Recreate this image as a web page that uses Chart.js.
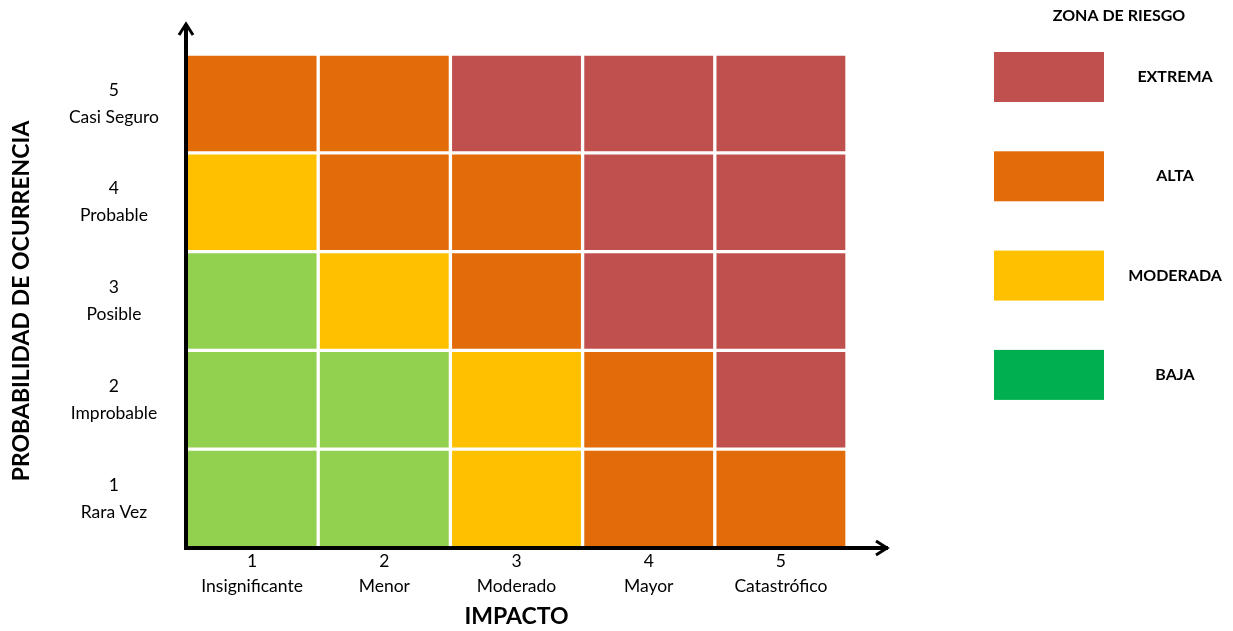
<!DOCTYPE html>
<html>
<head>
<meta charset="utf-8">
<script src="https://cdn.jsdelivr.net/npm/chart.js@4"></script>
<style>
  html, body { margin: 0; padding: 0; background: #ffffff; }
  #wrap { position: relative; width: 1233px; height: 631px; }
</style>
</head>
<body>
<div id="wrap"><canvas id="c"></canvas></div>
<script>
// ---- Data ----
const impactNumbers = ['1', '2', '3', '4', '5'];
const impactNames = ['Insignificante', 'Menor', 'Moderado', 'Mayor', 'Catastrófico'];
const probNumbers = ['1', '2', '3', '4', '5'];
const probNames = ['Rara Vez', 'Improbable', 'Posible', 'Probable', 'Casi Seguro'];

// Risk zone of each cell, rows from probability 1 (bottom) to 5 (top), columns impact 1..5
const riskRow1 = ['B', 'B', 'M', 'A', 'A'];
const riskRow2 = ['B', 'B', 'M', 'A', 'E'];
const riskRow3 = ['B', 'M', 'A', 'E', 'E'];
const riskRow4 = ['M', 'A', 'A', 'E', 'E'];
const riskRow5 = ['A', 'A', 'E', 'E', 'E'];
const riskRows = [riskRow1, riskRow2, riskRow3, riskRow4, riskRow5];

// Each cell spans one probability level
const cellSpan = [1, 1, 1, 1, 1];

// Legend
const zoneTitle = 'ZONA DE RIESGO';
const zoneCodes = ['E', 'A', 'M', 'B'];
const zoneLabels = ['EXTREMA', 'ALTA', 'MODERADA', 'BAJA'];
const zoneLegendColors = ['#C0504D', '#E26B0A', '#FFC000', '#00B050'];
const cellColors = { E: '#C0504D', A: '#E26B0A', M: '#FFC000', B: '#92D050' };

const axisTitleX = 'IMPACTO';
const axisTitleY = 'PROBABILIDAD DE OCURRENCIA';

const FONT = 'Lato, "Open Sans", sans-serif';

// ---- Plugins ----
const arrowAxes = {
  id: 'arrowAxes',
  afterDatasetsDraw(chart) {
    const { ctx, chartArea: a } = chart;
    ctx.save();
    ctx.strokeStyle = '#000';
    ctx.lineCap = 'butt';
    ctx.lineWidth = 4;
    ctx.beginPath();
    ctx.moveTo(a.left, a.bottom + 2);
    ctx.lineTo(a.left, a.top - 30);
    ctx.moveTo(a.left - 2, a.bottom);
    ctx.lineTo(a.right + 41, a.bottom);
    ctx.stroke();
    ctx.lineWidth = 3;
    ctx.lineJoin = 'miter';
    ctx.beginPath();
    ctx.moveTo(a.left - 7, a.top - 19);
    ctx.lineTo(a.left, a.top - 30);
    ctx.lineTo(a.left + 7, a.top - 19);
    ctx.moveTo(a.right + 29, a.bottom - 7);
    ctx.lineTo(a.right + 40, a.bottom);
    ctx.lineTo(a.right + 29, a.bottom + 7);
    ctx.stroke();
    ctx.restore();
  }
};

const zoneLegend = {
  id: 'zoneLegend',
  afterDraw(chart) {
    const { ctx } = chart;
    ctx.save();
    ctx.fillStyle = '#000';
    ctx.textAlign = 'center';
    ctx.textBaseline = 'middle';
    ctx.font = 'bold 16px ' + FONT;
    ctx.fillText(zoneTitle, 1119, 16);
    zoneLabels.forEach((lab, i) => {
      const y0 = 52 + i * 99.3;
      ctx.fillStyle = zoneLegendColors[i];
      ctx.fillRect(994, y0, 110, 50);
      ctx.fillStyle = '#000';
      ctx.font = 'bold 16px ' + FONT;
      ctx.fillText(lab, 1175, y0 + 25);
    });
    ctx.restore();
  }
};

// ---- Chart ----
const datasets = riskRows.map((row, r) => ({
  label: probNames[r],
  data: cellSpan.slice(),
  backgroundColor: row.map(z => cellColors[z]),
  borderColor: '#ffffff',
  borderWidth: 2,
  borderSkipped: false,
  barPercentage: 1,
  categoryPercentage: 1
}));

new Chart(document.getElementById('c'), {
  type: 'bar',
  data: {
    labels: impactNumbers.map((n, i) => [n, impactNames[i]]),
    datasets
  },
  plugins: [arrowAxes, zoneLegend],
  options: {
    responsive: true,
    maintainAspectRatio: false,
    animation: false,
    layout: { padding: { left: 0, top: 52, right: 386, bottom: 0 } },
    plugins: { legend: { display: false }, tooltip: { enabled: false }, title: { display: false } },
    scales: {
      x: {
        stacked: true,
        grid: { display: false, drawTicks: false },
        border: { display: false },
        ticks: {
          color: '#000',
          font: { family: FONT, size: 17.5, lineHeight: '25px' },
          padding: 1,
          maxRotation: 0
        },
        title: {
          display: true,
          text: axisTitleX,
          color: '#000',
          font: { family: FONT, size: 23, weight: 'bold', lineHeight: 1.2 },
          padding: { top: 0, bottom: 1 }
        },
        afterFit(scale) { scale.height = 83; }
      },
      y: {
        stacked: true,
        min: 0,
        max: 5,
        grid: { display: false, drawTicks: false },
        border: { display: false },
        afterBuildTicks(scale) {
          scale.ticks = probNumbers.map((_, i) => ({ value: i + 0.5 }));
        },
        ticks: {
          color: '#000',
          crossAlign: 'center',
          padding: 27,
          font: { family: FONT, size: 17.5, lineHeight: '27px' },
          callback(value) {
            const i = Math.floor(value);
            return [probNumbers[i], probNames[i]];
          }
        },
        title: {
          display: true,
          text: axisTitleY,
          color: '#000',
          font: { family: FONT, size: 23, weight: 'bold', lineHeight: 1.2 },
          padding: { top: 8, bottom: 0 }
        },
        afterFit(scale) { scale.width = 186; }
      }
    }
  }
});
</script>
</body>
</html>
